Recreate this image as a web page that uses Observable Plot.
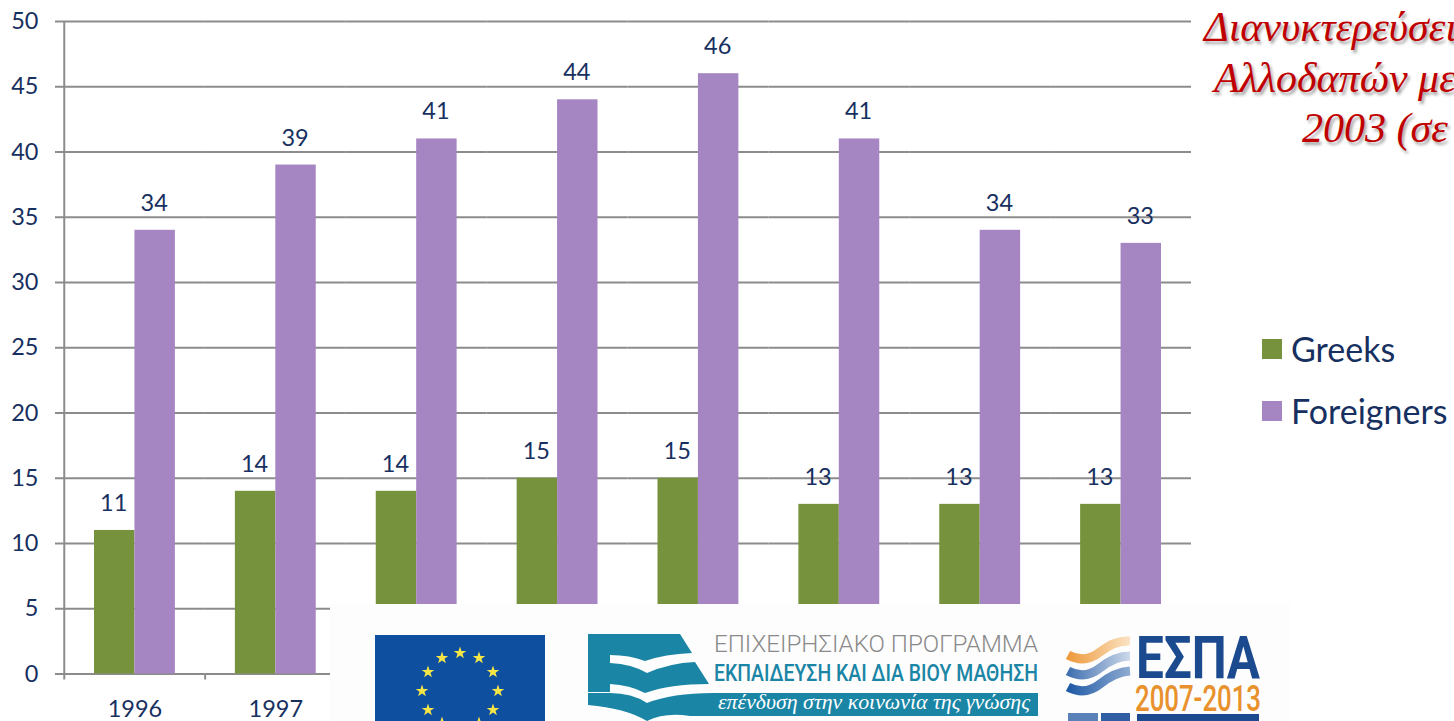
<!DOCTYPE html>
<html><head><meta charset="utf-8">
<script src="https://cdn.jsdelivr.net/npm/d3@7"></script>
<script src="https://cdn.jsdelivr.net/npm/@observablehq/plot@0.6"></script>
<style>
html,body{margin:0;padding:0;background:#fff;width:1454px;height:721px;overflow:hidden;position:relative}
#chart{position:absolute;left:0;top:0}
.t{position:absolute;white-space:nowrap;font:italic 42px "Liberation Serif",serif;color:#c00000;text-shadow:2px 3px 3px rgba(90,90,90,.55);line-height:40px}
.lg{position:absolute;left:1291px;font:34px Lato,sans-serif;color:#17305f;line-height:40px;white-space:nowrap}
.sw{position:absolute;left:1262px;width:20px;height:20px}
#logos{position:absolute;left:330px;top:604px}
</style></head><body>
<div id="chart"></div>
<div class="t" style="left:1204px;top:7px">Διανυκτερεύσεις</div>
<div class="t" style="left:1214px;top:58px">Αλλοδαπών με</div>
<div class="t" style="left:1302px;top:108px">2003 (σε</div>
<div class="sw" style="top:339px;background:#76923c"></div><div class="lg" style="top:329px">Greeks</div>
<div class="sw" style="top:401px;background:#a685c3"></div><div class="lg" style="top:391px">Foreigners</div>
<svg id="logos" width="960" height="117" viewBox="330 604 960 117" font-family="Roboto,sans-serif">
<defs>
<linearGradient id="g1"><stop offset="0" stop-color="#ee9a3c"/><stop offset="1" stop-color="#fbe3c4"/></linearGradient>
<linearGradient id="g2"><stop offset="0" stop-color="#3f6fb0"/><stop offset="1" stop-color="#cdd9ea"/></linearGradient>
<linearGradient id="g3"><stop offset="0" stop-color="#1f5aa5"/><stop offset="1" stop-color="#8fabd2"/></linearGradient>
</defs>
<rect x="330" y="604" width="960" height="117" fill="#fdfdfd"/>
<rect x="375" y="635" width="170" height="86" fill="#0f4fa0"/>
<g id="stars" fill="#f5e547"></g>
<g fill="#1a85a5">
<path d="M588 634H680L692 653Q665 654 645 661Q630 655 610 655V663Q632 664 647 673Q670 663 695 662L709 684Q670 684 645 693Q630 685 610 684V692H588Z"/>
<path d="M588 693H610Q632 693 647 703Q672 693 713 693H1038V716H690Q665 712 647 721Q625 708 588 705Z"/>
</g>
<text x="714" y="652" font-size="24" fill="#8a8a8a" font-weight="300" textLength="324" lengthAdjust="spacingAndGlyphs">ΕΠΙΧΕΙΡΗΣΙΑΚΟ ΠΡΟΓΡΑΜΜΑ</text>
<text x="714" y="681" font-size="24" fill="#1a85a5" font-weight="500" textLength="324" lengthAdjust="spacingAndGlyphs">ΕΚΠΑΙΔΕΥΣΗ ΚΑΙ ΔΙΑ ΒΙΟΥ ΜΑΘΗΣΗ</text>
<text x="718" y="709" font-size="20" fill="#fff" font-style="italic" font-family="Liberation Serif" textLength="312" lengthAdjust="spacingAndGlyphs">επένδυση στην κοινωνία της γνώσης</text>
<g fill="none" stroke-width="9">
<path d="M1068 655Q1085 664 1100 652T1130 641" stroke="url(#g1)"/>
<path d="M1068 671Q1085 680 1100 668T1130 656" stroke="url(#g2)"/>
<path d="M1068 687Q1085 696 1100 684T1130 671" stroke="url(#g3)"/>
</g>
<text x="1136" y="678" font-size="60" font-weight="700" fill="#1b4a8f" textLength="124" lengthAdjust="spacingAndGlyphs">ΕΣΠΑ</text>
<text x="1135" y="711" font-size="37" font-weight="500" fill="#e8912d" textLength="126" lengthAdjust="spacingAndGlyphs">2007-2013</text>
<rect x="1068" y="713" width="30" height="8" fill="#5a82b8"/><rect x="1101" y="713" width="29" height="8" fill="#2f5ea3"/><rect x="1137" y="714" width="122" height="7" fill="#1b4a8f"/>
</svg>
<script>
const years = [1996,1997,1998,1999,2000,2001,2002,2003];
const visibleYears = [1996,1997];
const greeks = [11,14,14,15,15,13,13,13];
const foreigners = [34,39,41,44,46,41,34,33];
const seriesNames = ["Greeks","Foreigners"];
const seriesColors = ["#76923c","#a685c3"];
const yTicks = [0,5,10,15,20,25,30,35,40,45,50];
const rows = years.flatMap((year,i)=>[
  {year,series:"Greeks",value:greeks[i]},
  {year,series:"Foreigners",value:foreigners[i]}
]);
const navy="#17305f", grid="#8c8c8c";
const svg = Plot.plot({
  width:1454,height:721,
  marginLeft:64,marginRight:263,marginTop:21,marginBottom:47.5,
  style:{fontFamily:"Lato,sans-serif",fontSize:"23.5px",color:navy,background:"transparent",overflow:"visible"},
  fx:{domain:years,padding:0,round:false,label:null,axis:null},
  x:{domain:seriesNames,padding:0,inset:30,round:false,axis:null,label:null},
  y:{domain:[0,50],ticks:yTicks,label:null,axis:null},
  color:{domain:seriesNames,range:seriesColors},
  marks:[
    Plot.ruleY(yTicks,{stroke:grid,strokeWidth:2}),
    Plot.axisY({ticks:yTicks,tickSize:9,tickPadding:17,stroke:grid,strokeWidth:2,strokeOpacity:1,label:null,fill:navy,fontSize:23.5}),
    Plot.axisFx({ticks:visibleYears,tickSize:0,tickPadding:26,label:null,fill:navy,fontSize:23.5,anchor:"bottom",tickFormat:d=>String(d)}),
    Plot.ruleX(["Greeks"],{x:d=>d,dx:-50.45,y1:-0.46,y2:0,stroke:grid,strokeWidth:2}),
    Plot.ruleX([{year:years[0],s:"Greeks"}],{fx:"year",x:"s",dx:-50.45,y1:0,y2:50,stroke:grid,strokeWidth:2}),
    Plot.barY(rows,{fx:"year",x:"series",y:"value",fill:"series"}),
    Plot.text(rows,{fx:"year",x:"series",y:"value",text:"value",dx:-1,dy:-27,lineAnchor:"middle",fill:navy,fontSize:23.5}),
  ]
});
document.getElementById("chart").append(svg);
const s=document.getElementById("stars");
const starPath=([x,y])=>d3.range(10).map(i=>{const r=i%2?2.6:6.6,a=-Math.PI/2+i*Math.PI/5;return (i?"L":"M")+(x+r*Math.cos(a)).toFixed(1)+" "+(y+r*Math.sin(a)).toFixed(1)}).join("")+"Z";
[[460,653],[442,658],[479,658],[428,672],[493,672],[422,691],[498,691],[428,710],[493,710],[442,723],[479,723]].forEach(p=>{
  const t=document.createElementNS("http://www.w3.org/2000/svg","path");
  t.setAttribute("d",starPath(p));s.append(t);
});
</script>
</body></html>
